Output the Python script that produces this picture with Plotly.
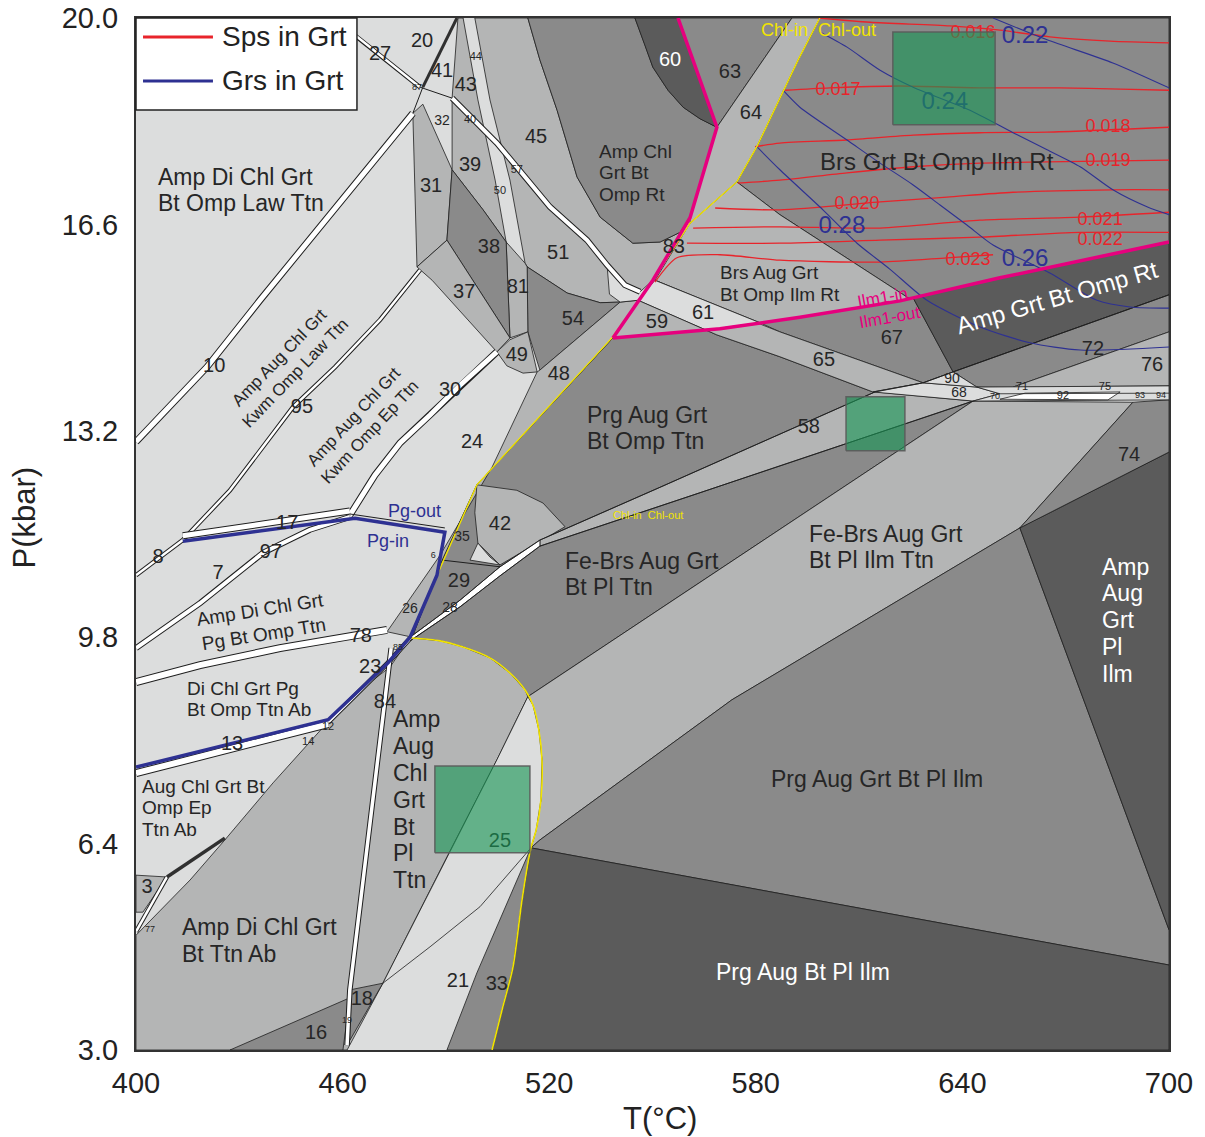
import plotly.graph_objects as go

FONT = "Liberation Sans, Arial, Helvetica, sans-serif"

LIGHT = "#dcdddd"
LMID = "#b4b5b5"
MID = "#8a8a8a"
DARK = "#5b5b5b"
EDGE = "#1e1e1e"
TXT = "#262626"
RED = "#e8242b"
NAVY = "#2e3192"
PINK = "#e6007e"
YELLOW = "#f2e400"

# Axis ticks
T_TICKS = [400, 460, 520, 580, 640, 700]
P_TICKS = [3.0, 6.4, 9.8, 13.2, 16.6, 20.0]
P_TICK_TEXT = ["3.0", "6.4", "9.8", "13.2", "16.6", "20.0"]

# ---------------- stability-field outlines: (T degC, P kbar) ----------------
FIELD_PRG_FEBRS = [(479.6, 9.79), (488.3, 9.74), (495.0, 9.64), (502.8, 9.46), (508.6, 9.21),
                   (513.0, 8.93), (513.8, 8.82), (643.1, 13.69), (614.0, 13.84), (587.0, 14.42),
                   (568.7, 14.78), (565.5, 14.86), (538.5, 14.73), (499.0, 12.31), (488.9, 11.07),
                   (480.2, 9.80)]
FIELD_AMP_DI_TTN_AB = [(400, 4.89), (415.7, 5.80), (425.8, 6.46), (439.8, 7.40), (456.3, 8.44),
                       (465.1, 8.93), (473.8, 9.31), (479.6, 9.79), (488.3, 9.74), (495.0, 9.64),
                       (502.8, 9.46), (508.6, 9.21), (513.0, 8.93), (513.8, 8.82), (504.8, 7.78),
                       (490.3, 6.18), (471.7, 4.10), (461.3, 3.0), (400, 3.0)]
FIELD_FEBRS_ILM_TTN = [(513.8, 8.82), (643.1, 13.69), (689.5, 13.67), (656.7, 11.60), (573.1, 8.77),
                       (517.3, 6.46), (514.7, 6.33), (516.2, 6.62), (517.6, 7.12), (517.9, 7.78),
                       (517.0, 8.27), (515.3, 8.68)]
FIELD_PRG_GRT_PL_ILM = [(514.7, 6.33), (517.3, 6.46), (573.1, 8.77), (656.7, 11.60), (700, 4.98),
                        (700, 4.40)]
FIELD_PRG_BT_PL_ILM = [(514.7, 6.33), (700, 4.40), (700, 3.0), (503.4, 3.0), (506.3, 3.66),
                       (509.5, 4.37), (512.1, 5.47)]
FIELD_AMP_AUG_PL_ILM = [(656.7, 11.60), (700, 12.85), (700, 4.98)]
FIELD_74 = [(689.5, 13.67), (700, 13.71), (700, 12.85), (656.7, 11.60)]
FIELD_25 = [(471.7, 4.10), (490.3, 6.18), (504.8, 7.78), (513.8, 8.82), (515.3, 8.68), (517.0, 8.27),
            (517.9, 7.78), (517.6, 7.12), (516.2, 6.62), (514.7, 6.33), (499.9, 5.36), (485.4, 4.70)]
FIELD_33 = [(514.7, 6.33), (499.0, 4.27), (490.3, 3.0), (503.4, 3.0), (506.3, 3.66), (509.5, 4.37),
            (512.1, 5.47)]
FIELD_18 = [(462.1, 3.99), (471.7, 4.10), (462.1, 3.16)]
FIELD_16 = [(427.3, 3.0), (462.1, 3.86), (460.1, 3.0)]
FIELD_3 = [(400, 5.88), (409.0, 5.85), (402.0, 5.27), (400, 5.27)]
FIELD_BRS_GRT = [(598.6, 20), (700, 20), (700, 16.31), (650.9, 15.72), (625.7, 15.39), (624.8, 15.37),
                 (587.0, 16.76), (574.5, 17.30), (580.3, 17.88), (592.3, 19.31)]
FIELD_BRS_AUG = [(574.5, 17.30), (587.0, 16.76), (624.8, 15.37), (592.8, 15.07), (581.2, 14.98),
                 (550.7, 15.68), (560.9, 16.62)]
FIELD_67 = [(581.2, 14.98), (592.8, 15.07), (621.9, 15.34), (625.7, 15.39), (637.3, 14.17),
            (628.6, 13.99), (587.0, 14.83)]
FIELD_AMP_GRT_RT = [(625.7, 15.39), (650.9, 15.72), (700, 16.31), (700, 15.44), (637.3, 14.17)]
FIELD_72 = [(637.3, 14.17), (700, 15.44), (700, 14.83), (654.7, 13.92), (644.2, 13.92)]
FIELD_76 = [(654.7, 13.92), (700, 14.83), (700, 13.94)]
FIELD_65 = [(545.8, 15.35), (550.7, 15.68), (581.2, 14.96), (587.0, 14.83), (628.6, 13.99),
            (614.0, 13.84), (587.0, 14.42), (568.7, 14.78)]
FIELD_61 = [(545.8, 15.35), (550.7, 15.68), (581.2, 14.98), (565.5, 14.86)]
FIELD_59 = [(538.5, 14.73), (545.8, 15.35), (565.5, 14.86)]
FIELD_AMP_CHL = [(513.8, 20), (517.3, 19.31), (522.3, 18.48), (528.1, 17.38), (534.8, 16.72),
                 (544.3, 16.29), (552.2, 16.31), (558.0, 16.47), (560.9, 16.71), (568.7, 18.20),
                 (563.8, 18.34), (558.9, 18.53), (554.5, 18.81), (550.1, 19.19), (547.8, 19.56),
                 (544.9, 20)]
FIELD_60 = [(544.9, 20), (547.8, 19.56), (550.1, 19.19), (554.5, 18.81), (558.9, 18.53),
            (563.8, 18.34), (568.7, 18.20), (557.4, 20)]
FIELD_63 = [(557.4, 20), (568.7, 18.20), (590.5, 20)]
FIELD_64 = [(568.7, 18.20), (590.5, 20), (598.6, 20), (592.3, 19.31), (580.3, 17.88), (574.5, 17.30),
            (560.9, 16.62), (560.9, 16.71)]
FIELD_45_51 = [(498.4, 20), (513.8, 20), (517.3, 19.31), (522.3, 18.48), (528.1, 17.38),
               (534.8, 16.72), (544.3, 16.29), (552.2, 16.31), (558.0, 16.47), (560.9, 16.71),
               (550.1, 15.68), (545.8, 15.35), (540.6, 15.32), (534.8, 15.31), (525.2, 15.47),
               (513.6, 15.90), (513.0, 15.96), (508.6, 17.33), (502.8, 18.65)]
FIELD_54 = [(513.6, 15.90), (525.2, 15.47), (534.8, 15.31), (540.6, 15.32), (517.3, 14.20),
            (513.8, 14.83)]
FIELD_81 = [(507.5, 16.31), (513.0, 15.96), (513.6, 15.90), (513.8, 14.83), (508.6, 14.73)]
FIELD_49 = [(504.8, 14.50), (508.6, 14.70), (513.8, 14.83), (516.5, 14.17), (512.4, 14.15),
            (507.7, 14.27)]
FIELD_48_26 = [(516.5, 14.17), (517.3, 14.20), (540.6, 15.32), (545.8, 15.35), (538.5, 14.73),
               (499.0, 12.31), (488.9, 11.07), (480.2, 9.80), (472.9, 9.89), (488.3, 11.15),
               (503.4, 12.60)]
FIELD_31 = [(480.4, 18.43), (483.3, 18.58), (491.8, 17.50), (490.3, 16.34), (481.6, 15.90)]
FIELD_43_39 = [(493.5, 20), (495.0, 20), (499.3, 18.65), (504.3, 17.33), (507.5, 16.31),
               (500.8, 16.84), (491.8, 17.50), (491.8, 18.68)]
FIELD_38 = [(491.8, 17.50), (500.8, 16.84), (507.5, 16.31), (508.6, 14.73), (490.3, 16.34)]
FIELD_37 = [(481.6, 15.90), (490.3, 16.34), (508.6, 14.73), (504.8, 14.50), (486.0, 15.68)]
FIELD_42 = [(499.0, 12.31), (510.6, 12.22), (518.2, 12.01), (524.6, 11.62), (505.7, 10.99),
            (499.3, 11.35), (498.4, 11.85)]
FIELD_BELOW_42 = [(497.0, 11.07), (499.3, 11.35), (502.8, 11.12), (505.7, 10.99)]
FIELD_58 = [(517.3, 11.40), (552.2, 12.27), (614.6, 13.84), (643.1, 13.69), (563.8, 12.18),
            (517.3, 11.30)]
FIELD_28_STRIP = [(479.6, 9.80), (494.1, 10.41), (505.7, 10.96), (517.3, 11.40), (517.3, 11.30),
                  (505.7, 10.81), (494.1, 10.30), (479.6, 9.74)]
FIELD_68 = [(614.0, 13.84), (628.6, 13.99), (644.2, 13.92), (650.9, 13.81), (643.1, 13.69)]
FIELD_90 = [(628.6, 13.99), (637.3, 14.17), (644.2, 13.92)]
FIELD_71_75 = [(644.2, 13.92), (700, 13.94), (700, 13.71), (643.1, 13.69), (650.9, 13.81)]
FIELD_92 = [(650.9, 13.72), (658.2, 13.82), (685.8, 13.84), (682.3, 13.71)]
FIELD_57_TAIL = [(536.8, 15.93), (542.0, 15.60), (546.4, 15.49), (550.1, 15.68), (545.8, 15.35),
                 (540.6, 15.32), (537.5, 15.45)]

# ---------------- narrow fields drawn as double lines ----------------
BAND_10 = [(400, 13.02), (411.3, 13.71), (420.6, 14.25), (436.0, 15.35), (456.3, 16.76),
           (470.9, 17.79), (480.4, 18.43)]
BAND_95 = [(413.6, 11.40), (427.3, 12.22), (445.6, 13.59), (457.8, 14.25), (470.9, 15.03),
           (482.5, 15.85)]
BAND_30 = [(462.1, 11.81), (469.4, 12.47), (476.7, 13.00), (485.4, 13.46), (494.1, 13.95),
           (504.8, 14.50)]
BAND_17 = [(413.6, 11.47), (462.1, 11.88)]
BAND_8 = [(400, 10.82), (413.6, 11.40)]
BAND_97 = [(400, 9.62), (418.6, 10.36), (436.9, 11.19), (450.5, 11.57), (462.1, 11.78)]
BAND_78 = [(400, 9.06), (418.6, 9.34), (441.8, 9.62), (462.1, 9.82), (472.9, 9.92)]
BAND_13 = [(400, 7.56), (455.8, 8.37)]
BAND_23 = [(455.8, 8.40), (473.2, 9.38), (479.6, 9.78)]
BAND_27 = [(457.2, 20), (464.2, 19.69), (482.5, 18.86)]
BAND_57 = [(491.8, 18.68), (504.8, 17.94), (520.2, 16.89), (531.0, 16.34), (536.8, 15.93),
           (542.0, 15.60), (546.4, 15.49)]
BAND_84 = [(461.3, 3.08), (462.1, 3.99), (472.3, 8.77), (474.1, 9.62)]
BAND_WEDGE_3 = [(400, 4.95), (409.0, 5.85)]

# ---------------- single boundaries ----------------
LINE_20_41 = [(493.2, 20), (483.3, 18.86)]
LINE_87 = [(483.3, 18.86), (480.4, 18.43)]
LINE_27_40 = [(482.5, 18.86), (491.8, 18.68)]
LINE_29 = [(488.9, 11.07), (505.7, 10.96)]
LINE_PG_OUT = [(462.1, 11.83), (489.7, 11.60)]
LINE_3 = [(409.0, 5.85), (425.8, 6.49)]
LINE_L1 = [(479.6, 9.80), (494.1, 10.41), (505.7, 10.96), (517.3, 11.40), (552.2, 12.27),
           (614.6, 13.84), (628.6, 13.99), (637.3, 14.17), (700, 15.44)]
LINE_L2 = [(479.6, 9.74), (494.1, 10.30), (505.7, 10.81), (517.3, 11.30), (563.8, 12.18),
           (643.1, 13.69)]
LINE_92_MID = [(650.9, 13.81), (700, 13.82)]

# Ilm1-in / Ilm1-out boundary
ILM_LOW = [(538.5, 14.73), (569.6, 14.88), (592.8, 15.07), (621.9, 15.34), (650.9, 15.72), (700, 16.31)]
ILM_UP = [(538.5, 14.73), (550.1, 15.68), (560.9, 16.71), (568.7, 18.20), (557.4, 20)]
# Chl-in / Chl-out boundary
CHL_LINE = [(487.1, 10.78), (499.0, 12.31), (538.2, 14.73), (550.1, 15.68), (560.9, 16.62),
            (574.5, 17.30), (580.3, 17.88), (592.3, 19.31), (598.6, 20)]
CHL_ARC = [(479.6, 9.79), (488.3, 9.74), (495.0, 9.64), (502.8, 9.46), (508.6, 9.21), (513.0, 8.93),
           (515.3, 8.68), (517.0, 8.27), (517.9, 7.78), (517.6, 7.12), (516.2, 6.62), (514.7, 6.33),
           (512.1, 5.47), (509.5, 4.37), (506.3, 3.66), (503.4, 3.0)]
# Pg-in / Pg-out boundary
PG_LINE = [(413.6, 11.38), (463.6, 11.76), (489.7, 11.53), (487.4, 10.82), (479.6, 9.80),
           (473.2, 9.38), (455.8, 8.44), (400, 7.66)]

# ---------------- isopleths ----------------
SPS_ISO = {
    "0.016": [(598.1, 20.0), (613.2, 19.93), (636.4, 19.87), (650.9, 19.80), (665.4, 19.69),
              (682.9, 19.62), (700, 19.59)],
    "0.017": [(588.5, 18.81), (601.5, 18.85), (621.9, 18.88), (645.1, 18.85), (668.3, 18.85),
              (685.8, 18.83), (700, 18.81)],
    "0.018": [(579.8, 17.88), (587.0, 17.94), (606.5, 17.99), (625.7, 18.07), (645.1, 18.11),
              (664.6, 18.12), (700, 18.20)],
    "0.019": [(574.8, 17.28), (587.0, 17.33), (606.5, 17.45), (625.7, 17.55), (645.1, 17.61),
              (664.6, 17.63), (700, 17.66)],
    "0.020": [(568.2, 16.87), (587.0, 16.84), (616.1, 16.97), (635.5, 17.05), (654.7, 17.13),
              (683.7, 17.17), (700, 17.17)],
    "0.021": [(561.8, 16.54), (587.0, 16.56), (616.1, 16.54), (645.1, 16.67), (674.2, 16.72),
              (700, 16.80)],
    "0.022": [(560.0, 16.29), (587.0, 16.29), (616.1, 16.34), (645.1, 16.39), (674.2, 16.47),
              (700, 16.47)],
    "0.023": [(550.7, 15.65), (557.1, 16.05), (569.6, 16.10), (587.0, 16.01), (616.1, 15.98),
              (635.5, 16.05), (648.9, 16.10)],
}
SPS_LABELS = [("0.016", 643.1, 19.75), ("0.017", 603.9, 18.81), ("0.018", 682.3, 18.19),
              ("0.019", 682.3, 17.64), ("0.020", 609.4, 16.93), ("0.021", 680.0, 16.67),
              ("0.022", 680.0, 16.34), ("0.023", 641.6, 16.01)]
GRS_ISO = {
    "0.22": [(648.9, 20.0), (664.6, 19.64), (683.7, 19.26), (700, 18.85)],
    "0.24": [(598.6, 19.77), (606.5, 19.52), (616.1, 19.14), (625.7, 18.86), (642.2, 18.48),
             (654.7, 18.11), (664.6, 17.83), (674.2, 17.55), (683.7, 17.17), (693.6, 16.89),
             (700, 16.76)],
    "0.26": [(587.9, 18.81), (592.8, 18.53), (606.5, 17.99), (616.1, 17.61), (625.7, 17.25),
             (633.5, 16.92), (641.3, 16.59), (648.9, 16.26), (665.4, 15.80), (679.1, 15.35),
             (688.7, 15.24), (700, 15.22)],
    "0.28": [(580.3, 17.88), (587.0, 17.50), (599.5, 16.84), (609.4, 16.29), (619.0, 15.86),
             (629.7, 15.35), (645.1, 14.91), (659.6, 14.65), (674.2, 14.53), (700, 14.58)],
}
GRS_LABELS = [("0.22", 658.2, 19.69), ("0.28", 605.0, 16.55), ("0.26", 658.2, 16.01)]

# ---------------- P-T boxes ----------------
BOX_T = [(606.2, 623.3), (619.8, 649.5), (486.8, 514.4)]
BOX_P = [(12.87, 13.76), (18.24, 19.77), (6.25, 7.68)]

# ---------------- field numbers ----------------
NUM_LARGE = [("20", 483.1, 19.60), ("27", 470.9, 19.39), ("41", 488.9, 19.11), ("43", 495.8, 18.88),
             ("45", 516.2, 18.02), ("39", 497.0, 17.56), ("31", 485.7, 17.22), ("38", 502.5, 16.21),
             ("81", 510.9, 15.55), ("37", 495.3, 15.47), ("51", 522.6, 16.11), ("54", 526.9, 15.03),
             ("49", 510.6, 14.43), ("48", 522.8, 14.12), ("83", 556.2, 16.21), ("59", 551.3, 14.98),
             ("61", 564.7, 15.12), ("63", 572.5, 19.09), ("64", 578.6, 18.42), ("65", 599.8, 14.35),
             ("67", 619.5, 14.71), ("72", 677.9, 14.53), ("76", 695.1, 14.27), ("58", 595.4, 13.25),
             ("74", 688.4, 12.78), ("10", 422.7, 14.25), ("95", 448.2, 13.58), ("30", 491.2, 13.86),
             ("24", 497.6, 13.00), ("42", 505.7, 11.65), ("17", 443.9, 11.66), ("97", 439.2, 11.19),
             ("8", 406.4, 11.10), ("7", 423.8, 10.84), ("29", 493.8, 10.71), ("78", 465.3, 9.80),
             ("23", 468.0, 9.29), ("84", 472.3, 8.72), ("13", 427.9, 8.02), ("3", 403.2, 5.67),
             ("21", 493.5, 4.12), ("33", 504.8, 4.07), ("18", 465.6, 3.82), ("16", 452.3, 3.26)]
NUM_MEDIUM = [("32", 488.9, 18.30), ("35", 494.7, 11.45), ("26", 479.6, 10.25), ("28", 491.2, 10.28),
              ("90", 637.0, 14.04), ("68", 639.0, 13.82)]
NUM_SMALL = [("44", 498.7, 19.36), ("40", 497.0, 18.32), ("57", 510.6, 17.50), ("50", 505.7, 17.15),
             ("71", 657.3, 13.91), ("75", 681.4, 13.91), ("92", 669.2, 13.77), ("14", 450.0, 8.07),
             ("12", 455.8, 8.32)]
NUM_TINY = [("87", 481.6, 18.85), ("70", 649.5, 13.76), ("93", 691.6, 13.77), ("94", 697.7, 13.77),
            ("85", 476.1, 9.62), ("77", 404.1, 4.98), ("19", 461.3, 3.49), ("6", 486.3, 11.15)]
NUM_WHITE = [("60", 555.1, 19.29)]

# ---------------- assemblage names ----------------
# (lines, T, P centre, font size, colour, anchor, line spacing px)
NAMES = [
    (["Amp Di Chl Grt", "Bt Omp Law Ttn"], 405.8, 17.17, 23, TXT, "left", 26),
    (["Amp Chl", "Grt Bt", "Omp Rt"], 533.9, 17.45, 19, TXT, "left", 21.5),
    (["Brs Grt Bt Omp Ilm Rt"], 632.6, 17.63, 24, TXT, "center", 26),
    (["Brs Aug Grt", "Bt Omp Ilm Rt"], 569.0, 15.63, 19, TXT, "left", 22),
    (["Prg Aug Grt", "Bt Omp Ttn"], 530.4, 13.25, 23, TXT, "left", 26),
    (["Fe-Brs Aug Grt", "Bt Pl Ttn"], 524.0, 10.84, 23, TXT, "left", 26),
    (["Fe-Brs Aug Grt", "Bt Pl Ilm Ttn"], 594.9, 11.29, 23, TXT, "left", 26),
    (["Amp", "Aug", "Grt", "Pl", "Ilm"], 680.0, 10.08, 23, "white", "left", 26.8),
    (["Prg Aug Grt Bt Pl Ilm"], 615.2, 7.46, 23, TXT, "center", 26),
    (["Prg Aug Bt Pl Ilm"], 593.7, 4.28, 23, "white", "center", 26),
    (["Di Chl Grt Pg", "Bt Omp Ttn Ab"], 414.2, 8.78, 19, TXT, "left", 21.5),
    (["Aug Chl Grt Bt", "Omp Ep", "Ttn Ab"], 401.2, 6.99, 19, TXT, "left", 21.5),
    (["Amp", "Aug", "Chl", "Grt", "Bt", "Pl", "Ttn"], 474.1, 7.12, 23, TXT, "left", 26.8),
    (["Amp Di Chl Grt", "Bt Ttn Ab"], 412.8, 4.80, 23, TXT, "left", 27),
]
# (text, T, P, size, colour, angle)
ROTATED = [
    ("Amp Aug Chl Grt<br>Kwm Omp Law Ttn", 443.9, 14.28, 17, TXT, -46),
    ("Amp Aug Chl Grt<br>Kwm Omp Ep Ttn", 465.6, 13.30, 17, TXT, -47),
    ("Amp Di Chl Grt<br>Pg Bt Omp Ttn", 436.6, 10.05, 19, TXT, -9),
    ("Amp Grt Bt Omp Rt", 667.5, 15.39, 24, "white", -16),
    ("Ilm1-in", 616.9, 15.40, 17, PINK, -10),
    ("Ilm1-out", 619.0, 15.06, 17, PINK, -10),
]
BOUNDARY_TEXT = [("Chl-in  Chl-out", 598.1, 19.80, 18, YELLOW), ("Chl-in  Chl-out", 548.7, 11.81, 11, YELLOW),
                 ("Pg-out", 481.0, 11.88, 18, NAVY), ("Pg-in", 473.2, 11.38, 18, NAVY)]

KBAR_PER_PX = (20.0 - 3.0) / 1032.0

fig = go.Figure()


def xs(pts, close=False):
    v = [p[0] for p in pts]
    return v + [v[0]] if close else v


def ys(pts, close=False):
    v = [p[1] for p in pts]
    return v + [v[0]] if close else v


def field(pts, color, edge=EDGE, width=0.8):
    fig.add_trace(go.Scatter(x=xs(pts, True), y=ys(pts, True), mode="lines", fill="toself",
                             fillcolor=color, line=dict(color=edge, width=width),
                             hoverinfo="skip", showlegend=False))


def line(pts, color=EDGE, width=1.0, shape="linear"):
    fig.add_trace(go.Scatter(x=xs(pts), y=ys(pts), mode="lines",
                             line=dict(color=color, width=width, shape=shape, smoothing=0.7),
                             hoverinfo="skip", showlegend=False))


def band(pts, w):
    line(pts, EDGE, w + 2.0)
    line(pts, "white", w)


def texts(items, size, color):
    fig.add_trace(go.Scatter(x=[t[1] for t in items], y=[t[2] for t in items],
                             text=[t[0] for t in items], mode="text",
                             textfont=dict(family=FONT, size=size, color=color),
                             hoverinfo="skip", showlegend=False))


# large fields first, smaller ones layered on top
field(FIELD_PRG_FEBRS, MID)
field(FIELD_AMP_DI_TTN_AB, LMID)
field(FIELD_FEBRS_ILM_TTN, LMID)
field(FIELD_PRG_GRT_PL_ILM, MID)
field(FIELD_PRG_BT_PL_ILM, DARK)
field(FIELD_AMP_AUG_PL_ILM, DARK)
field(FIELD_74, MID)
field(FIELD_25, LIGHT)
field(FIELD_33, MID)
field(FIELD_18, MID)
field(FIELD_16, MID)
field(FIELD_3, LMID)
field(FIELD_BRS_GRT, MID)
field(FIELD_BRS_AUG, LMID)
field(FIELD_67, MID)
field(FIELD_AMP_GRT_RT, DARK)
field(FIELD_72, MID)
field(FIELD_76, LMID)
field(FIELD_65, LMID)
field(FIELD_61, LIGHT)
field(FIELD_59, LMID)
field(FIELD_45_51, LMID)
field(FIELD_AMP_CHL, MID)
field(FIELD_60, DARK)
field(FIELD_63, MID)
field(FIELD_64, LMID)
field(FIELD_54, MID)
field(FIELD_81, LMID)
field(FIELD_49, LMID)
field(FIELD_48_26, LMID)
field(FIELD_31, LMID)
field(FIELD_43_39, LMID)
field(FIELD_38, MID)
field(FIELD_37, LMID)
field(FIELD_42, LMID)
field(FIELD_BELOW_42, LIGHT)
field(FIELD_58, LMID)
field(FIELD_28_STRIP, "white")
field(FIELD_68, LIGHT)
field(FIELD_90, LIGHT)
field(FIELD_71_75, LIGHT)
field(FIELD_92, "white")
field(FIELD_57_TAIL, LIGHT)

# double-line fields
band(BAND_10, 5)
band(BAND_95, 2.5)
band(BAND_30, 5)
band(BAND_17, 5)
band(BAND_8, 2.5)
band(BAND_97, 4)
band(BAND_78, 6)
band(BAND_13, 6)
band(BAND_23, 3)
band(BAND_27, 2.5)
band(BAND_57, 4)
band(BAND_84, 3.5)
band(BAND_WEDGE_3, 2.5)

# single boundaries
line(LINE_20_41, "#303030", 3)
line(LINE_87)
line(LINE_27_40)
line(LINE_29)
line(LINE_PG_OUT)
line(LINE_3, "#303030", 3.5)
line(LINE_L1, EDGE, 0.9)
line(LINE_L2, EDGE, 0.9)
line(LINE_92_MID, EDGE, 0.8)

# isopleths
for name, pts in SPS_ISO.items():
    line(pts, RED, 1.3, "spline")
for name, pts in GRS_ISO.items():
    line(pts, NAVY, 1.1, "spline")

# reaction boundaries
line(CHL_LINE, YELLOW, 1.4)
line(CHL_ARC, YELLOW, 1.6, "spline")
line(ILM_LOW, PINK, 3.5)
line(ILM_UP, PINK, 3.5)
line(PG_LINE, NAVY, 3.5)

# numbers and isopleth values
texts(NUM_LARGE, 20, TXT)
texts(NUM_MEDIUM, 14, TXT)
texts(NUM_SMALL, 11, TXT)
texts(NUM_TINY, 9, TXT)
texts(NUM_WHITE, 20, "white")
texts(SPS_LABELS, 18, RED)
texts(GRS_LABELS, 24, NAVY)
texts([("0.24", 634.9, 18.60)], 24, NAVY)
texts([("25", 505.7, 6.43)], 20, TXT)

# P-T boxes (translucent, over the labels beneath them)
for (t0, t1), (p0, p1) in zip(BOX_T, BOX_P):
    fig.add_trace(go.Scatter(x=[t0, t1, t1, t0, t0], y=[p0, p0, p1, p1, p0], mode="lines",
                             fill="toself", fillcolor="rgba(25,150,85,0.62)",
                             line=dict(color="rgba(90,90,90,0.9)", width=1.5),
                             hoverinfo="skip", showlegend=False))

annotations = []
for lines_, t, p, size, color, anchor, spacing in NAMES:
    n = len(lines_)
    step = spacing * KBAR_PER_PX
    for i, s in enumerate(lines_):
        annotations.append(dict(x=t, y=p + ((n - 1) / 2.0 - i) * step, xref="x", yref="y", text=s,
                                showarrow=False, xanchor=anchor, yanchor="middle",
                                font=dict(family=FONT, size=size, color=color)))
for s, t, p, size, color, ang in ROTATED:
    annotations.append(dict(x=t, y=p, xref="x", yref="y", text=s, showarrow=False, textangle=ang,
                            xanchor="center", yanchor="middle", align="center",
                            font=dict(family=FONT, size=size, color=color)))
for s, t, p, size, color in BOUNDARY_TEXT:
    annotations.append(dict(x=t, y=p, xref="x", yref="y", text=s, showarrow=False,
                            xanchor="center", yanchor="middle",
                            font=dict(family=FONT, size=size, color=color)))

# axis titles
annotations.append(dict(x=0.507, y=-0.066, xref="paper", yref="paper", text="T(°C)", showarrow=False,
                        xanchor="center", yanchor="middle", font=dict(family=FONT, size=31, color="#222")))
annotations.append(dict(x=-0.1075, y=0.516, xref="paper", yref="paper", text="P(kbar)", showarrow=False,
                        textangle=-90, xanchor="center", yanchor="middle",
                        font=dict(family=FONT, size=31, color="#222")))

# legend
annotations.append(dict(x=0.0813, y=0.9816, xref="paper", yref="paper", text="Sps in Grt", showarrow=False,
                        xanchor="left", yanchor="middle", font=dict(family=FONT, size=28, color="#222")))
annotations.append(dict(x=0.0813, y=0.9390, xref="paper", yref="paper", text="Grs in Grt", showarrow=False,
                        xanchor="left", yanchor="middle", font=dict(family=FONT, size=28, color="#222")))
shapes = [
    dict(type="rect", xref="paper", yref="paper", x0=0, x1=0.2139, y0=0.9109, y1=1.0,
         fillcolor="white", line=dict(color="#222", width=1.5), layer="above"),
    dict(type="line", xref="paper", yref="paper", x0=0.0068, x1=0.0745, y0=0.9816, y1=0.9816,
         line=dict(color=RED, width=3), layer="above"),
    dict(type="line", xref="paper", yref="paper", x0=0.0068, x1=0.0745, y0=0.9390, y1=0.9390,
         line=dict(color=NAVY, width=3), layer="above"),
]

fig.update_layout(
    width=1205, height=1137,
    margin=dict(l=136, r=36, t=18, b=87, autoexpand=False),
    paper_bgcolor="white", plot_bgcolor=LIGHT,
    showlegend=False,
    annotations=annotations, shapes=shapes,
    font=dict(family=FONT, color="#222"),
)
fig.update_xaxes(range=[400, 700], tickvals=T_TICKS, ticks="", showgrid=False, zeroline=False,
                 showline=True, mirror=True, linecolor="#333", linewidth=2, automargin=False,
                 tickfont=dict(family=FONT, size=29, color="#222"), ticklabelstandoff=6)
fig.update_yaxes(range=[3, 20], tickvals=P_TICKS, ticktext=P_TICK_TEXT, ticks="", showgrid=False,
                 zeroline=False, showline=True, mirror=True, linecolor="#333", linewidth=2,
                 automargin=False,
                 tickfont=dict(family=FONT, size=29, color="#222"), ticklabelstandoff=10)

fig.write_html("out.html")
